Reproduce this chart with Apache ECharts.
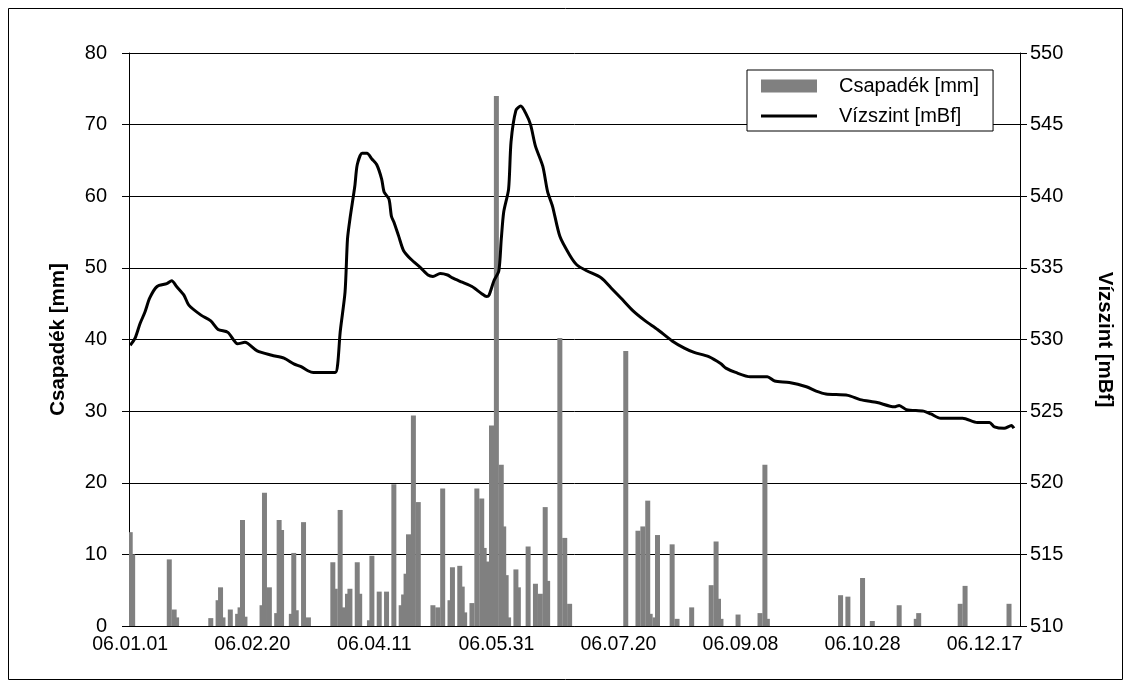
<!DOCTYPE html>
<html>
<head>
<meta charset="utf-8">
<script src="https://cdn.jsdelivr.net/npm/echarts@6/dist/echarts.min.js"></script>
<style>
html,body{margin:0;padding:0;background:#fff;}
#chart{width:1131px;height:688px;}
</style>
</head>
<body>
<div id="chart"></div>
<script>
// Category labels: daily dates of 2006 (yy.mm.dd)
const year = 2006;
const dayCount = 365;
const labelEvery = 50;

// Precipitation [mm]: [day index, value]
const precipitation = [
  [0,13.1],[1,10.0],
  [16,9.3],[18,2.3],[19,1.2],
  [33,1.1],
  [36,3.6],[37,5.4],[38,1.2],[41,2.3],
  [44,1.7],[45,2.6],[46,14.8],[47,1.3],
  [54,2.9],[55,18.6],[57,5.4],[60,1.8],[61,14.8],[62,13.4],
  [66,1.7],[67,10.2],[68,2.2],[71,14.5],[73,1.2],
  [83,8.9],[84,5.2],[86,16.2],[87,2.6],[89,4.5],[90,5.2],[93,8.9],[94,4.5],
  [98,0.8],[99,9.8],[102,4.8],[105,4.8],
  [108,19.8],[111,2.9],[112,4.4],[113,7.3],[114,12.8],[116,29.4],[118,17.3],
  [124,2.9],[126,2.6],[128,19.2],
  [131,3.6],[132,8.2],[135,8.4],[136,5.5],[137,1.9],[140,3.2],[142,19.2],
  [144,17.8],[145,10.9],[146,9.0],[148,28.0],[149,5.9],[150,74.0],[152,22.5],[153,13.9],[154,7.1],[155,1.2],
  [158,7.9],[159,5.4],[163,11.1],[166,5.9],[168,4.5],[170,16.6],[171,6.3],
  [176,40.2],[178,12.3],[180,3.1],
  [203,38.4],
  [208,13.3],[210,13.9],[212,17.5],[213,1.7],[215,1.2],[216,12.7],
  [222,11.4],[224,1.0],[230,2.6],
  [238,5.7],[240,11.8],[241,3.8],[242,1.0],[249,1.6],
  [258,1.8],[260,22.5],[261,1.0],
  [291,4.3],[294,4.1],[300,6.7],[304,0.7],[315,2.9],[322,1.0],[323,1.8],
  [340,3.1],[342,5.6],[360,3.1]
];

// Water level [mBf]: [day index, value]
const waterLevel = [
  [0,529.6],[2,530.1],[4,531.1],[6,531.9],[8,532.9],[11,533.7],[15,533.9],[17,534.1],[19,533.7],
  [22,533.1],[24,532.4],[29,531.7],[33,531.3],[36,530.7],[40,530.5],[44,529.7],[47,529.8],
  [52,529.2],[58,528.9],[63,528.7],[67,528.3],[70,528.1],[73,527.8],[75,527.7],[84,527.7],
  [85,528.3],[86,530.5],[88,533.3],[89,537.0],[90,538.4],[92,540.7],[93,542.2],[95,543.0],
  [97,543.0],[99,542.6],[101,542.2],[103,541.2],[104,540.3],[106,539.8],[107,538.6],[108,538.2],
  [110,537.2],[112,536.2],[115,535.6],[119,535.0],[122,534.5],[124,534.4],[127,534.6],[130,534.5],
  [132,534.3],[136,534.0],[140,533.7],[144,533.2],[146,533.0],[147,533.1],[149,534.1],[151,534.8],
  [152,537.0],[153,538.9],[155,540.5],[156,543.8],[158,546.0],[160,546.3],[162,545.8],[164,545.0],
  [166,543.5],[169,542.1],[171,540.3],[173,539.3],[176,537.2],[180,535.9],[183,535.2],[187,534.8],
  [193,534.3],[197,533.6],[201,532.9],[206,532.0],[211,531.3],[216,530.7],[222,529.9],[227,529.4],
  [231,529.1],[237,528.8],[242,528.3],[244,528.0],[248,527.7],[254,527.4],[261,527.4],[264,527.1],
  [270,527.0],[277,526.7],[281,526.4],[285,526.2],[294,526.1],[299,525.8],[306,525.6],[313,525.3],
  [315,525.4],[318,525.1],[325,525.0],[328,524.8],[332,524.5],[341,524.5],[347,524.2],[352,524.2],
  [354,523.9],[358,523.8],[361,524.0],[362,523.8]
];

const seriesNames = ['Csapadék [mm]', 'Vízszint [mBf]'];
const leftAxisName = 'Csapadék [mm]';
const rightAxisName = 'Vízszint [mBf]';

function pad(n){ return (n < 10 ? '0' : '') + n; }
const categories = [];
for (let i = 0; i < dayCount; i++) {
  const d = new Date(Date.UTC(year, 0, 1 + i));
  categories.push(String(year).slice(2) + '.' + pad(d.getUTCMonth() + 1) + '.' + pad(d.getUTCDate()));
}

// legend icon: a horizontal line inside a 56x13 box
const LINE_ICON = 'path://M0,0h0.01v0.01h-0.01z M0,5h56v3h-56z M55.99,12.99h0.01v0.01h-0.01z';

const FONT = '"Liberation Sans", Arial, sans-serif';
const chart = echarts.init(document.getElementById('chart'), null, {renderer: 'canvas'});
chart.setOption({
  animation: false,
  backgroundColor: '#fff',
  textStyle: {fontFamily: FONT, color: '#000'},
  graphic: [{
    type: 'rect', z: 100, silent: true,
    shape: {x: 8.5, y: 8.5, width: 1114, height: 671},
    style: {fill: 'transparent', stroke: '#000', lineWidth: 1}
  }],
  grid: {left: 129, right: 111, top: 53, bottom: 62, containLabel: false},
  legend: {
    orient: 'vertical', left: 747, top: 70,
    backgroundColor: '#fff', borderColor: '#000', borderWidth: 1, borderRadius: 0,
    padding: [6, 14, 5, 14],
    itemWidth: 56, itemHeight: 13, itemGap: 10,
    textStyle: {fontFamily: FONT, fontSize: 20, color: '#000', padding: [0, 0, 0, 17], lineHeight: 16},
    data: [
      {name: seriesNames[0], icon: 'rect'},
      {name: seriesNames[1], icon: LINE_ICON, itemStyle: {color: '#000'}}
    ]
  },
  xAxis: {
    type: 'category', data: categories, boundaryGap: true,
    axisLine: {lineStyle: {color: '#000', width: 1}},
    axisTick: {interval: function(i){ return i % labelEvery === 0; }, length: 6, lineStyle: {color: '#000'}},
    axisLabel: {interval: function(i){ return i % labelEvery === 0; }, color: '#000', fontFamily: FONT, fontSize: 19.5, margin: 9},
    splitLine: {show: false}
  },
  yAxis: [{
    type: 'value', position: 'left', min: 0, max: 80, interval: 10,
    name: leftAxisName, nameLocation: 'middle', nameGap: 60, nameRotate: 90,
    nameTextStyle: {fontFamily: FONT, fontWeight: 'bold', fontSize: 20.5, color: '#000'},
    axisLine: {show: true, lineStyle: {color: '#000', width: 1}},
    axisTick: {show: true, length: 7, lineStyle: {color: '#000'}},
    axisLabel: {color: '#000', fontFamily: FONT, fontSize: 20, margin: 22},
    splitLine: {show: true, lineStyle: {color: '#000', width: 1}}
  }, {
    type: 'value', position: 'right', min: 510, max: 550, interval: 5,
    name: rightAxisName, nameLocation: 'middle', nameGap: 74, nameRotate: -90,
    nameTextStyle: {fontFamily: FONT, fontWeight: 'bold', fontSize: 20.5, color: '#000'},
    axisLine: {show: true, lineStyle: {color: '#000', width: 1}},
    axisTick: {show: true, length: 7, lineStyle: {color: '#000'}},
    axisLabel: {color: '#000', fontFamily: FONT, fontSize: 20, margin: 10},
    splitLine: {show: false}
  }],
  series: [{
    name: seriesNames[0], type: 'bar', yAxisIndex: 0,
    data: precipitation, barWidth: 5,
    itemStyle: {color: '#808080'}
  }, {
    name: seriesNames[1], type: 'line', yAxisIndex: 1,
    data: waterLevel, symbol: 'none', smooth: 0.25,
    lineStyle: {color: '#000', width: 3},
    itemStyle: {color: '#000'}, z: 5
  }]
});
</script>
</body>
</html>
